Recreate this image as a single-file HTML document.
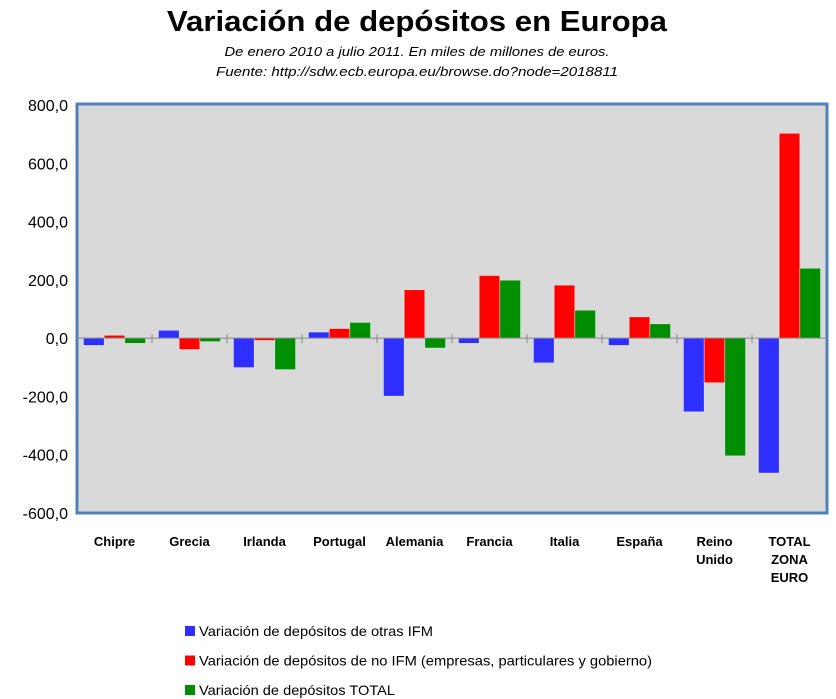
<!DOCTYPE html>
<html><head><meta charset="utf-8"><style>
html,body{margin:0;padding:0;background:#fff;}
svg{display:block;font-family:"Liberation Sans",sans-serif;}
</style></head><body>
<svg id="chart" width="836" height="699" viewBox="0 0 836 699">
<text x="417" y="31" text-anchor="middle" font-size="29" font-weight="bold" textLength="500" lengthAdjust="spacingAndGlyphs">Variación de depósitos en Europa</text>
<text x="417" y="56" text-anchor="middle" font-size="13" font-style="italic" textLength="385" lengthAdjust="spacingAndGlyphs">De enero 2010 a julio 2011. En miles de millones de euros.</text>
<text x="417" y="76" text-anchor="middle" font-size="13" font-style="italic" textLength="402" lengthAdjust="spacingAndGlyphs">Fuente: http://sdw.ecb.europa.eu/browse.do?node=2018811</text>
<rect x="77" y="104" width="750" height="409" fill="#d9d9d9" stroke="#4f81bd" stroke-width="3"/>
<g id="yticks"></g>
<g id="bars"></g>
<g id="xaxis"></g>
<g id="legend"></g>
</svg>
<script>
const categories=["Chipre","Grecia","Irlanda","Portugal","Alemania","Francia","Italia","España","Reino|Unido","TOTAL|ZONA|EURO"];
const otrasIFM=[-25,27,-101,21,-199,-18,-85,-25,-253,-463];
const noIFM=[10,-39,-8,33,166,215,182,73,-153,703];
const total=[-18,-12,-108,54,-34,199,96,49,-404,240];
const yTicks=[800,600,400,200,0,-200,-400,-600];
const seriesNames=["Variación de depósitos de otras IFM","Variación de depósitos de no IFM (empresas, particulares y gobierno)","Variación de depósitos TOTAL"];
const NS="http://www.w3.org/2000/svg";
const X0=77,CW=75,YT=105,YB=513,YMAX=800,YMIN=-600;
const y=v=>YT+(YMAX-v)*(YB-YT)/(YMAX-YMIN);
const x=i=>X0+i*CW;
function mk(tag,attrs,parent){const e=document.createElementNS(NS,tag);for(const k in attrs)e.setAttribute(k,attrs[k]);parent.appendChild(e);return e;}
const yg=document.getElementById('yticks');
yTicks.forEach(t=>{const e=mk('text',{x:68,y:y(t)+6,'text-anchor':'end','font-size':16},yg);


e.textContent=t.toFixed(1).replace('.',',');});
const bg=document.getElementById('bars');
const colors=["#2e2eff","#ff0000","#008f00"];
const series=[otrasIFM,noIFM,total];
const bw=20.7;
series.forEach((s,si)=>s.forEach((v,i)=>{
const bx=x(i)+(CW-3*bw)/2+si*bw;const y0=y(0),y1=y(v);
const r=mk('rect',{x:bx,y:Math.min(y0,y1),width:bw,height:Math.abs(y1-y0),fill:colors[si],stroke:'#eee','stroke-width':0.5},bg);


}));
const xg=document.getElementById('xaxis');
const ax=mk('line',{x1:X0,x2:X0+750,y1:y(0),y2:y(0),stroke:'#888','stroke-width':1},xg);


for(let i=1;i<categories.length;i++){const tk=mk('line',{x1:x(i),x2:x(i),y1:y(0)-4,y2:y(0)+5,stroke:'#888'},xg);

}
categories.forEach((c,i)=>{c.split('|').forEach((ln,j)=>{const t=mk('text',{x:x(i)+CW/2,y:546+j*18,'text-anchor':'middle','font-size':13,'font-weight':'bold'},xg);


t.textContent=ln;});});
const lg=document.getElementById('legend');
const lens=[234,453,196];
seriesNames.forEach((n,i)=>{const yy=626+i*29.5;
const sq=mk('rect',{x:185,y:yy,width:10,height:10,fill:colors[i]},lg);


const t=mk('text',{x:199,y:yy+10,'font-size':14,textLength:lens[i],lengthAdjust:'spacingAndGlyphs'},lg);


t.textContent=n;});
</script>
</body></html>
